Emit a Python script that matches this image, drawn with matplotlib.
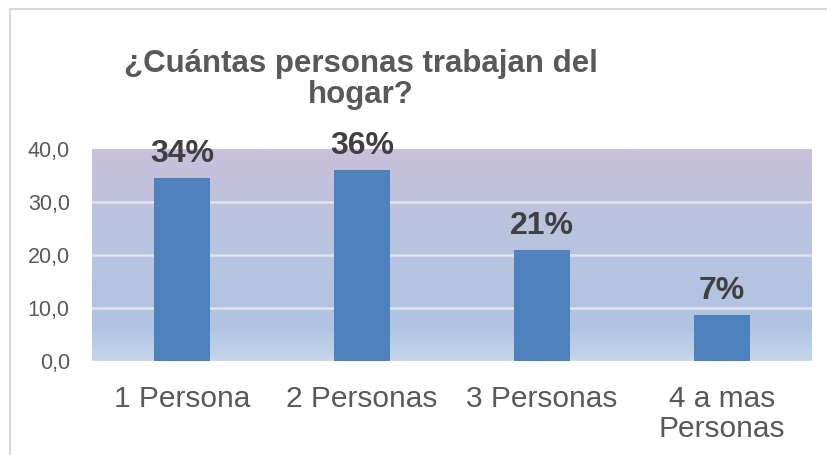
import matplotlib.pyplot as plt
import matplotlib.patches as mpatches
import numpy as np

plt.rcParams['font.family'] = ['Liberation Sans', 'DejaVu Sans']

categories = ['1 Persona', '2 Personas', '3 Personas', '4 a mas\nPersonas']
values = [34.5, 36.0, 20.9, 8.7]
labels = ['34%', '36%', '21%', '7%']
yticks = [0, 10, 20, 30, 40]

fig = plt.figure(figsize=(8.28, 4.55), dpi=100)

# chart border (only left and top visible)
fig.patches.append(mpatches.Rectangle((10/828, -0.1), 1.2, 1 - 9/455 + 0.1,
                                      transform=fig.transFigure, fill=False,
                                      edgecolor='#d9d9d9', linewidth=1.5))

ax = fig.add_axes([92/828, 1 - 361/455, 720/828, 212/455])
x = np.arange(len(categories))

# gradient background, purple on top to light blue on bottom
stops = np.array([[197, 215, 236], [175, 197, 226], [186, 196, 223], [201, 192, 220]]) / 255
pos = np.array([0.0, 0.15, 0.6, 1.0])
t = np.linspace(0, 1, 200)
grad = np.stack([np.interp(t, pos, stops[:, i]) for i in range(3)], axis=1)[:, None, :]
ax.imshow(grad, extent=[-0.5, 3.5, 0, 40], origin='lower', aspect='auto', zorder=0)

for yv in yticks[1:-1]:
    ax.axhline(yv, color='#e2e2ea', linewidth=1.8, zorder=1)
ax.axhline(0, color='#d9d9d9', linewidth=1.2, zorder=1)

ax.bar(x, values, width=0.31, color='#4f81bd', zorder=2)
for xi, v, lab in zip(x, values, labels):
    ax.text(xi, v + 3.0, lab, ha='center', va='baseline', fontsize=23,
            fontweight='bold', color='#404040', zorder=3)

ax.set_xlim(-0.5, 3.5)
ax.set_ylim(0, 40)
ax.set_yticks(yticks)
ax.set_yticklabels([f'{v:.1f}'.replace('.', ',') for v in yticks], fontsize=15.5, color='#595959')
ax.set_xticks(x)
ax.set_xticklabels(categories, fontsize=21.5, color='#595959', linespacing=1.1)
ax.tick_params(axis='x', length=0, pad=17)
ax.tick_params(axis='y', length=0, pad=16)
for s in ax.spines.values():
    s.set_visible(False)

fig.text(361/828, 1 - 103/455, '¿Cuántas personas trabajan del\nhogar?', ha='center', va='baseline',
         fontsize=22.5, fontweight='bold', color='#595959', linespacing=1.05)

fig.savefig('out.png', dpi=100)
